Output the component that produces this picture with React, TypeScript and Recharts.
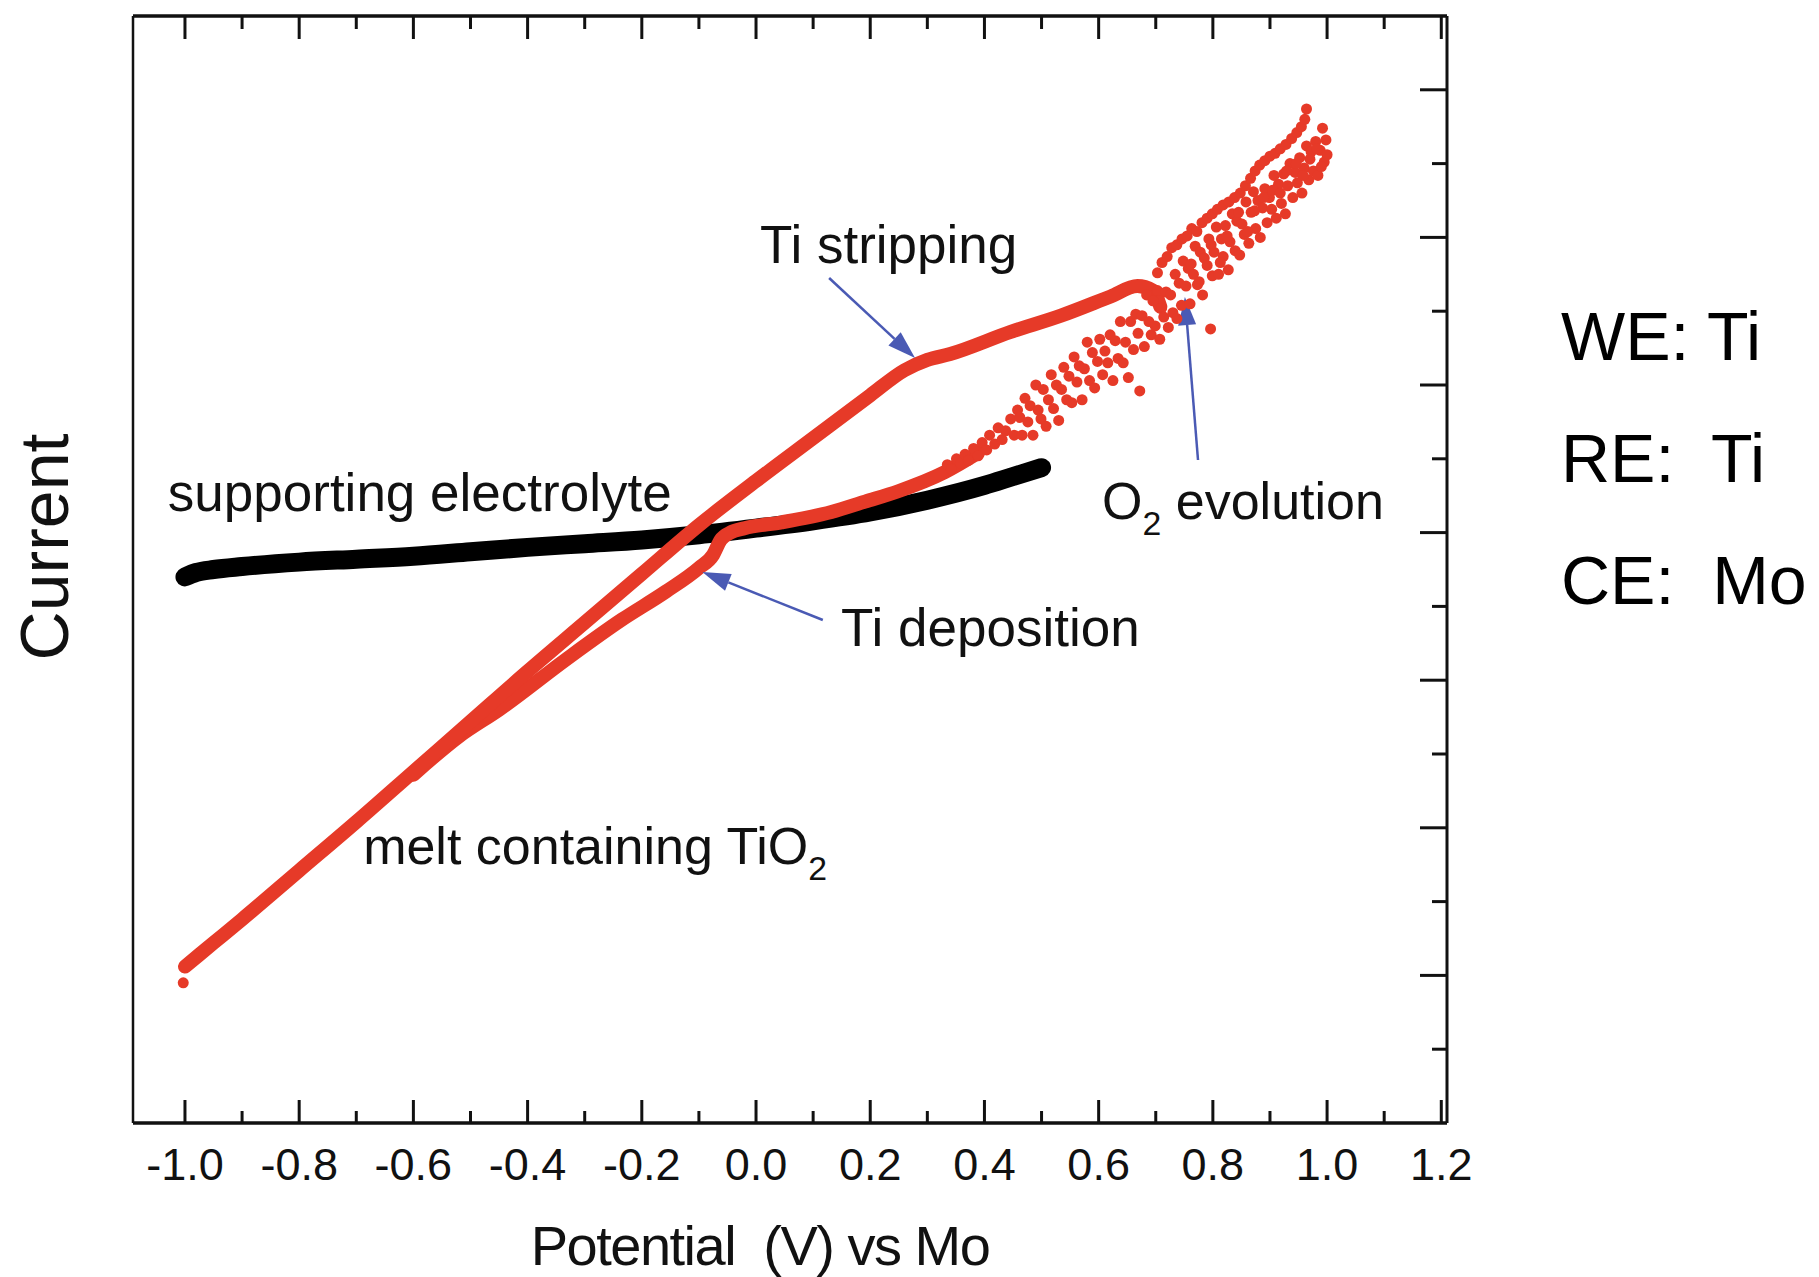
import React from 'react';
import { ComposedChart, Line, Scatter, XAxis, YAxis, ReferenceLine, ReferenceDot } from 'recharts';

const FONT = "'Liberation Sans', Arial, Helvetica, sans-serif";
const RED = '#e63a28';
const BLUE = '#4a5ab4';
const INK = '#111111';

// axis ticks
const xTicks = [-1.0, -0.9, -0.8, -0.7, -0.6, -0.5, -0.4, -0.3, -0.2, -0.1, 0.0, 0.1, 0.2, 0.3, 0.4, 0.5, 0.6, 0.7, 0.8, 0.9, 1.0, 1.1, 1.2];
const yTicks = [0.5, 1, 1.5, 2, 2.5, 3, 3.5, 4, 4.5, 5, 5.5, 6, 6.5, 7];
const xDomain: [number, number] = [-1.091, 1.21];
const yDomain: [number, number] = [0, 7.5];

// supporting electrolyte (black)
const supportingElectrolyte: [number, number][] = [
  [-1.0, 3.70], [-0.98, 3.73], [-0.95, 3.75], [-0.9, 3.77], [-0.8, 3.80], [-0.7, 3.82],
  [-0.6, 3.84], [-0.5, 3.87], [-0.4, 3.90], [-0.3, 3.925], [-0.2, 3.95], [-0.1, 3.985],
  [0.0, 4.03], [0.1, 4.08], [0.2, 4.14], [0.3, 4.22], [0.4, 4.32], [0.45, 4.38], [0.5, 4.44],
];

// melt containing TiO2: upper (stripping) branch
const strippingBranch: [number, number][] = [
  [-1.0, 1.06], [-0.95, 1.22], [-0.9, 1.38], [-0.8, 1.71], [-0.7, 2.04], [-0.6, 2.38],
  [-0.5, 2.72], [-0.4, 3.06], [-0.3, 3.39], [-0.2, 3.72], [-0.1, 4.05], [0.0, 4.35],
  [0.1, 4.64], [0.2, 4.93], [0.26, 5.10], [0.30, 5.17], [0.34, 5.21], [0.446, 5.36],
  [0.534, 5.47], [0.621, 5.60], [0.668, 5.67], [0.695, 5.64], [0.708, 5.53],
];

// melt containing TiO2: lower (deposition) branch
const depositionBranch: [number, number][] = [
  [-0.6, 2.36], [-0.52, 2.62], [-0.45, 2.80], [-0.333, 3.14], [-0.235, 3.41], [-0.158, 3.60],
  [-0.10, 3.76], [-0.075, 3.85], [-0.062, 3.95], [-0.045, 4.00], [-0.02, 4.03], [0.045, 4.07],
  [0.132, 4.14], [0.191, 4.21], [0.249, 4.28], [0.331, 4.41], [0.389, 4.54],
];

// scattered points: start point and the O2 evolution region
const startPoint: [number, number][] = [[-1.003, 0.95]];

const onsetPoints: [number, number][] = [
  [0.335, 4.46], [0.342, 4.43], [0.351, 4.50], [0.358, 4.47], [0.366, 4.53], [0.372, 4.49],
  [0.381, 4.57], [0.389, 4.52], [0.396, 4.61], [0.404, 4.56], [0.409, 4.66], [0.418, 4.60],
  [0.424, 4.71], [0.431, 4.63], [0.437, 4.69], [0.446, 4.77], [0.452, 4.66], [0.458, 4.83],
  [0.462, 4.78], [0.466, 4.66], [0.471, 4.91], [0.476, 4.75], [0.48, 4.86], [0.485, 4.66],
  [0.49, 5.00], [0.494, 4.83], [0.499, 4.77], [0.503, 4.97], [0.508, 4.72], [0.512, 4.90],
  [0.517, 5.07], [0.521, 4.84], [0.526, 5.00], [0.53, 4.76], [0.535, 4.97], [0.539, 5.12],
  [0.544, 4.90], [0.548, 5.06], [0.553, 4.88], [0.557, 5.19], [0.562, 5.02], [0.566, 5.13],
  [0.571, 4.90], [0.575, 5.11], [0.58, 5.29], [0.584, 5.03], [0.589, 5.22], [0.593, 4.98],
  [0.598, 5.16], [0.602, 5.31], [0.607, 5.07], [0.611, 5.23], [0.616, 5.15], [0.62, 5.34],
  [0.625, 5.03], [0.629, 5.30], [0.634, 5.18], [0.638, 5.43], [0.643, 5.15], [0.647, 5.29],
  [0.652, 5.05], [0.656, 5.43],
];

const peakPoints: [number, number][] = [
  [0.661, 5.24], [0.665, 5.48], [0.669, 5.35], [0.672, 4.96], [0.676, 5.47], [0.68, 5.26],
  [0.684, 5.61], [0.688, 5.43], [0.692, 5.34], [0.695, 5.57], [0.699, 5.40], [0.703, 5.64],
  [0.707, 5.31], [0.71, 5.52], [0.714, 5.46], [0.718, 5.63], [0.722, 5.39], [0.726, 5.61],
  [0.73, 5.49], [0.734, 5.75], [0.737, 5.45],
];

const bandPoints: [number, number][] = [
  [0.741, 5.69], [0.745, 5.54], [0.748, 5.84], [0.753, 5.67], [0.757, 5.79], [0.76, 5.55],
  [0.766, 5.75], [0.769, 5.94], [0.773, 5.68], [0.778, 5.90], [0.782, 5.61], [0.785, 5.86],
  [0.79, 5.81], [0.793, 5.99], [0.796, 5.38], [0.799, 5.74], [0.802, 5.90], [0.806, 6.07],
  [0.81, 5.75], [0.815, 5.99], [0.818, 5.87], [0.822, 6.08], [0.827, 5.78], [0.83, 5.97],
  [0.834, 6.16], [0.839, 5.91], [0.842, 6.11], [0.847, 5.88], [0.851, 6.09], [0.855, 6.02],
  [0.858, 6.24], [0.863, 5.96], [0.867, 6.17], [0.871, 6.31], [0.875, 6.06], [0.879, 6.25],
  [0.883, 6.00], [0.887, 6.20], [0.891, 6.33], [0.895, 6.10], [0.899, 6.27], [0.903, 6.19],
  [0.907, 6.42], [0.911, 6.13], [0.915, 6.36], [0.92, 6.23], [0.924, 6.43], [0.927, 6.16],
  [0.931, 6.35], [0.935, 6.50], [0.94, 6.27], [0.944, 6.44], [0.948, 6.37], [0.952, 6.54],
  [0.956, 6.30], [0.96, 6.47], [0.964, 6.62], [0.968, 6.39], [0.972, 6.58], [0.976, 6.45],
  [0.98, 6.65], [0.984, 6.42], [0.988, 6.59], [0.992, 6.74], [0.995, 6.51], [0.998, 6.66],
  [1.0, 6.56],
  [0.762, 5.82], [0.776, 5.70], [0.797, 5.95], [0.813, 5.83], [0.825, 6.01], [0.845, 6.17],
  [0.861, 6.04], [0.873, 6.18], [0.889, 6.27], [0.905, 6.32], [0.918, 6.30], [0.929, 6.45],
  [0.946, 6.50], [0.958, 6.42], [0.97, 6.53], [0.982, 6.60], [0.99, 6.48],
];

const arcPoints: [number, number][] = [
  [0.703, 5.76], [0.711, 5.83], [0.72, 5.87], [0.728, 5.93], [0.737, 5.95], [0.746, 5.99],
  [0.755, 6.01], [0.763, 6.06], [0.772, 6.04], [0.781, 6.10], [0.79, 6.13], [0.799, 6.16],
  [0.808, 6.19], [0.818, 6.22], [0.828, 6.24], [0.838, 6.27], [0.848, 6.30], [0.857, 6.35],
  [0.866, 6.40], [0.874, 6.45], [0.882, 6.49], [0.891, 6.52], [0.9, 6.55], [0.909, 6.57],
  [0.918, 6.60], [0.928, 6.63], [0.938, 6.67], [0.947, 6.71], [0.955, 6.75], [0.961, 6.80],
  [0.964, 6.87],
];

const evolutionPoints = [...startPoint, ...onsetPoints, ...peakPoints, ...bandPoints, ...arcPoints];

// annotation anchors (data coordinates)
const textNotes = [
  { main: 'Ti stripping', sub: '', rest: '', x: 0.007, y: 5.827, size: 53 },
  { main: 'supporting electrolyte', sub: '', rest: '', x: -1.03, y: 4.146, size: 53 },
  { main: 'O', sub: '2', rest: ' evolution', x: 0.606, y: 4.092, size: 52 },
  { main: 'Ti deposition', sub: '', rest: '', x: 0.149, y: 3.232, size: 53 },
  { main: 'melt containing TiO', sub: '2', rest: '', x: -0.688, y: 1.755, size: 52 },
];
const arrowNotes = [
  { x1: 0.128, y1: 5.725, x2: 0.2785, y2: 5.183 },
  { x1: 0.774, y1: 4.492, x2: 0.751, y2: 5.596 },
  { x1: 0.117, y1: 3.408, x2: -0.094, y2: 3.733 },
];
const electrodes = ['WE: Ti', 'RE:  Ti', 'CE:  Mo'];

const toXY = (arr: [number, number][]) => arr.map(([x, y]) => ({ x, y }));

const BottomTick = (props: any) => {
  const { x, y, payload } = props;
  const v = payload.value as number;
  const major = Math.round(v * 10) % 2 === 0;
  return (
    <g>
      <line x1={x} x2={x} y1={y} y2={y - (major ? 23 : 12)} stroke={INK} strokeWidth={3} />
      {major && (
        <text x={x} y={y + 57} textAnchor="middle" fontSize={45} fontFamily={FONT} fill={INK}>
          {v.toFixed(1)}
        </text>
      )}
    </g>
  );
};

const TopTick = (props: any) => {
  const { x, y, payload } = props;
  const v = payload.value as number;
  const major = Math.round(v * 10) % 2 === 0;
  return <line x1={x} x2={x} y1={y} y2={y + (major ? 23 : 13)} stroke={INK} strokeWidth={3} />;
};

const RightTick = (props: any) => {
  const { x, y, payload } = props;
  const v = payload.value as number;
  const major = Math.round(v * 2) % 2 === 0;
  return <line x1={x} x2={x - (major ? 27 : 15)} y1={y} y2={y} stroke={INK} strokeWidth={3} />;
};

const ArrowShape = (p: any) => {
  const { x1, y1, x2, y2 } = p;
  const ang = Math.atan2(y2 - y1, x2 - x1);
  const L = 28;
  const W = 9;
  const bx = x2 - L * Math.cos(ang);
  const by = y2 - L * Math.sin(ang);
  const px = -Math.sin(ang) * W;
  const py = Math.cos(ang) * W;
  return (
    <g>
      <line x1={x1} y1={y1} x2={bx} y2={by} stroke={BLUE} strokeWidth={2.5} />
      <polygon points={`${x2},${y2} ${bx + px},${by + py} ${bx - px},${by - py}`} fill={BLUE} />
    </g>
  );
};

const DotShape = (p: any) => <circle cx={p.cx} cy={p.cy} r={5.5} fill={RED} />;

const makeTextShape = (n: any) => (p: any) => (
  <text x={p.cx} y={p.cy} fontSize={n.size} fontFamily={FONT} fill={INK} style={{ whiteSpace: 'pre' }}>
    {n.main}
    {n.sub && (
      <tspan fontSize={n.size * 0.65} dy={16}>
        {n.sub}
      </tspan>
    )}
    {n.rest && <tspan dy={n.sub ? -16 : 0}>{n.rest}</tspan>}
  </text>
);

export default function App() {
  return (
    <div style={{ position: 'absolute', left: 0, top: 0, width: 1819, height: 1277, background: '#fff' }}>
      <ComposedChart width={1819} height={1277} margin={{ top: 15, right: 371, bottom: 153, left: 132 }}>
        <XAxis
          xAxisId="b"
          type="number"
          dataKey="x"
          domain={xDomain}
          ticks={xTicks}
          interval={0}
          allowDataOverflow
          height={1}
          tickSize={0}
          tickMargin={0}
          tickLine={false}
          tick={<BottomTick />}
          axisLine={{ stroke: INK, strokeWidth: 3.5 }}
          label={(p: any) => {
            const vb = p.viewBox;
            return (
              <text
                x={vb.x + 627}
                y={vb.y + 142}
                textAnchor="middle"
                fontSize={56}
                letterSpacing={-1.5}
                fontFamily={FONT}
                fill={INK}
                style={{ whiteSpace: 'pre' }}
              >
                {'Potential  (V) vs Mo'}
              </text>
            );
          }}
        />
        <XAxis
          xAxisId="t"
          orientation="top"
          type="number"
          dataKey="x"
          domain={xDomain}
          ticks={xTicks}
          interval={0}
          allowDataOverflow
          height={1}
          tickSize={0}
          tickMargin={0}
          tickLine={false}
          tick={<TopTick />}
          axisLine={{ stroke: INK, strokeWidth: 3.5 }}
        />
        <YAxis
          yAxisId="l"
          type="number"
          dataKey="y"
          domain={yDomain}
          ticks={yTicks}
          allowDataOverflow
          width={1}
          tick={false}
          tickLine={false}
          axisLine={{ stroke: INK, strokeWidth: 2.5 }}
          label={(p: any) => {
            const vb = p.viewBox;
            return (
              <text
                transform={`translate(${vb.x - 64}, ${vb.y + 531}) rotate(-90)`}
                textAnchor="middle"
                fontSize={68}
                fontFamily={FONT}
                fill={INK}
              >
                Current
              </text>
            );
          }}
        />
        <YAxis
          yAxisId="r"
          orientation="right"
          type="number"
          dataKey="y"
          domain={yDomain}
          ticks={yTicks}
          interval={0}
          allowDataOverflow
          width={1}
          tickSize={0}
          tickMargin={0}
          tickLine={false}
          tick={<RightTick />}
          axisLine={{ stroke: INK, strokeWidth: 3 }}
        />

        <Line
          data={toXY(supportingElectrolyte)}
          dataKey="y"
          xAxisId="b"
          yAxisId="l"
          type="monotone"
          stroke="#000"
          strokeWidth={19}
          strokeLinecap="round"
          dot={false}
          activeDot={false}
          isAnimationActive={false}
        />
        <Line
          data={toXY(depositionBranch)}
          dataKey="y"
          xAxisId="b"
          yAxisId="l"
          type="monotone"
          stroke={RED}
          strokeWidth={14}
          strokeLinecap="round"
          strokeLinejoin="round"
          dot={false}
          activeDot={false}
          isAnimationActive={false}
        />
        <Line
          data={toXY(strippingBranch)}
          dataKey="y"
          xAxisId="t"
          yAxisId="r"
          type="monotone"
          stroke={RED}
          strokeWidth={14}
          strokeLinecap="round"
          strokeLinejoin="round"
          dot={false}
          activeDot={false}
          isAnimationActive={false}
        />
        <Scatter
          data={toXY(evolutionPoints)}
          dataKey="y"
          xAxisId="t"
          yAxisId="r"
          fill={RED}
          shape={DotShape}
          isAnimationActive={false}
        />

        {arrowNotes.map((a, i) => (
          <ReferenceLine
            key={`a${i}`}
            xAxisId="b"
            yAxisId="l"
            segment={[{ x: a.x1, y: a.y1 }, { x: a.x2, y: a.y2 }]}
            ifOverflow="visible"
            shape={ArrowShape}
          />
        ))}
        {textNotes.map((n, i) => (
          <ReferenceDot
            key={`t${i}`}
            xAxisId="b"
            yAxisId="l"
            x={n.x}
            y={n.y}
            r={0}
            ifOverflow="visible"
            shape={makeTextShape(n)}
          />
        ))}
      </ComposedChart>
      <svg
        width={1819}
        height={1277}
        style={{ position: 'absolute', left: 0, top: 0, pointerEvents: 'none' }}
      >
        {electrodes.map((t, i) => (
          <text
            key={t}
            x={1561}
            y={360 + i * 122}
            fontSize={68}
            fontFamily={FONT}
            fill="#000"
            style={{ whiteSpace: 'pre' }}
          >
            {t}
          </text>
        ))}
      </svg>
    </div>
  );
}
